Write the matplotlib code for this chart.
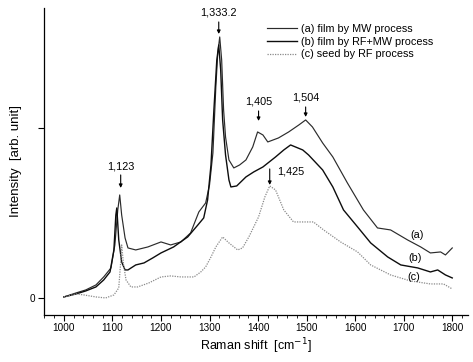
import matplotlib
matplotlib.use("Agg")
import matplotlib.pyplot as plt
from matplotlib.ticker import MultipleLocator, FixedLocator

plt.rcParams['font.family'] = ['Liberation Sans', 'DejaVu Sans']

# ---- data ----
a_x = [1000, 1025, 1045, 1066, 1082, 1097, 1105, 1111, 1115, 1119, 1126, 1132, 1148, 1173, 1200,
       1220, 1241, 1261, 1278, 1292, 1300, 1307, 1313, 1317, 1321, 1325, 1329, 1333, 1340, 1350,
       1362, 1375, 1389, 1399, 1410, 1420, 1442, 1463, 1484, 1498, 1512, 1533, 1554, 1584, 1617,
       1646, 1673, 1708, 1735, 1755, 1776, 1786, 1800]
a_y = [1, 5, 8, 13, 21, 30, 53, 88, 103, 83, 60, 50, 48, 51, 56,
       53, 56, 65, 86, 95, 113, 145, 211, 245, 261, 238, 188, 161, 138, 130,
       133, 138, 151, 166, 163, 156, 160, 166, 173, 178, 171, 155, 141, 115, 88,
       70, 68, 58, 51, 45, 46, 43, 50]

b_x = [1000, 1025, 1045, 1066, 1082, 1095, 1103, 1107, 1109, 1113, 1119, 1126, 1132, 1148, 1165,
       1183, 1200, 1226, 1255, 1276, 1288, 1296, 1303, 1309, 1315, 1319, 1323, 1327, 1333, 1340,
       1344, 1356, 1375, 1391, 1410, 1436, 1453, 1467, 1492, 1504, 1533, 1554, 1576, 1605, 1632,
       1667, 1694, 1729, 1755, 1770, 1786, 1800]
b_y = [1, 4, 7, 11, 18, 26, 48, 83, 90, 58, 36, 28, 28, 33, 35,
       40, 45, 51, 61, 73, 80, 98, 133, 188, 238, 253, 228, 178, 143, 118,
       111, 112, 121, 126, 131, 141, 148, 153, 148, 143, 128, 111, 88, 71, 55,
       41, 33, 30, 26, 28, 23, 20]

c_x = [1000, 1025, 1041, 1066, 1086, 1103, 1113, 1117, 1119, 1123, 1128, 1138, 1152, 1175, 1200,
       1220, 1241, 1268, 1282, 1292, 1303, 1313, 1327, 1340, 1358, 1368, 1381, 1401, 1414, 1424,
       1436, 1453, 1473, 1494, 1514, 1535, 1570, 1605, 1632, 1673, 1714, 1755, 1782, 1800]
c_y = [1, 4, 3, 1, 0, 3, 10, 36, 53, 33, 18, 11, 11, 15, 21,
       22, 21, 21, 26, 31, 41, 51, 61, 55, 48, 50, 61, 81, 101, 112,
       108, 88, 76, 76, 76, 68, 56, 46, 33, 23, 17, 14, 14, 9]

labels = ["(a) film by MW process", "(b) film by RF+MW process", "(c) seed by RF process"]
tags = ["(a)", "(b)", "(c)"]
x_ticks = [1000, 1100, 1200, 1300, 1400, 1500, 1600, 1700, 1800]

# peak annotations: (text, x, text_y, arrow_start_y, arrow_end_y)
peaks = [("1,123", 1117, 131, 123, 110),
         ("1,333.2", 1319, 285, 276, 264),
         ("1,405", 1401, 196, 187, 177),
         ("1,504", 1498, 200, 191, 181)]

fig = plt.figure(figsize=(4.73, 3.62), dpi=100)
ax = fig.add_axes([0.093, 0.130, 0.897, 0.848])

ax.plot(a_x, a_y, color='#2b2b2b', lw=0.85, label=labels[0])
ax.plot(b_x, b_y, color='#0d0d0d', lw=1.0, label=labels[1])
ax.plot(c_x, c_y, color='#8a8a8a', lw=0.9, ls=(0, (1, 1)), label=labels[2])

ax.set_xlim(959, 1833)
ax.set_ylim(-17, 290)

for s in ['top', 'right']:
    ax.spines[s].set_visible(False)
ax.spines['left'].set_linewidth(0.9)
ax.spines['bottom'].set_linewidth(0.9)

ax.xaxis.set_major_locator(FixedLocator(x_ticks))
ax.xaxis.set_minor_locator(MultipleLocator(20))
ax.set_xticklabels([str(t) for t in x_ticks])
ax.yaxis.set_major_locator(FixedLocator([0, 170]))
ax.set_yticklabels(["0", ""])
ax.tick_params(axis='both', which='major', direction='out', length=4, width=0.8, labelsize=7.2, pad=2)
ax.tick_params(axis='x', which='minor', direction='out', length=2, width=0.6)

ax.set_xlabel("Raman shift  [cm$^{-1}$]", fontsize=9, labelpad=2)
ax.set_ylabel("Intensity  [arb. unit]", fontsize=9.5, labelpad=6)

for txt, x, ty, y0, y1 in peaks:
    ax.text(x, ty, txt, ha='center', va='center', fontsize=7.8, clip_on=False)
    ax.annotate("", xy=(x, y1), xytext=(x, y0),
                arrowprops=dict(arrowstyle='-|>', color='black', lw=0.8,
                                mutation_scale=5, shrinkA=0, shrinkB=0),
                annotation_clip=False)

# 1,425 (text to the right of the arrow)
ax.annotate("", xy=(1424, 113), xytext=(1424, 129),
            arrowprops=dict(arrowstyle='-|>', color='black', lw=0.8,
                            mutation_scale=5, shrinkA=0, shrinkB=0))
ax.text(1440, 126, "1,425", ha='left', va='center', fontsize=7.8)

for t, (tx, ty) in zip(tags, [(1728, 63), (1724, 40), (1720, 21)]):
    ax.text(tx, ty, t, ha='center', va='center', fontsize=7.8)

leg = ax.legend(loc='upper left', bbox_to_anchor=(267 / 473, 1 - 24 / 362),
                bbox_transform=fig.transFigure, frameon=False, fontsize=7.8,
                handlelength=2.8, handletextpad=0.35, labelspacing=0.25,
                borderpad=0, borderaxespad=0)

fig.savefig("out.png", dpi=100)
